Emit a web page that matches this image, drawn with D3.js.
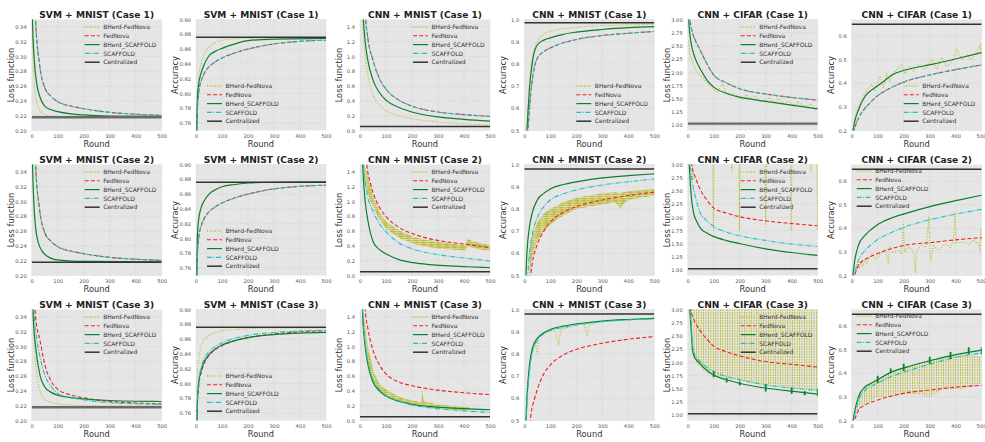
<!DOCTYPE html>
<meta charset="utf-8">
<style>
body { margin: 0; background: #fff; }
svg text { font-family: "DejaVu Sans", sans-serif; }
</style>
<svg width="985" height="442"></svg>
<script src="https://d3js.org/d3.v7.min.js"></script>
<script>

// ---- data ----
var roundTicks = [0, 100, 200, 300, 400, 500];
var svmLossTicks = [0.20, 0.22, 0.24, 0.26, 0.28, 0.30, 0.32, 0.34];
var svmAccTicks = [0.76, 0.78, 0.80, 0.82, 0.84, 0.86, 0.88, 0.90];
var cnnLossTicks = [0.0, 0.2, 0.4, 0.6, 0.8, 1.0, 1.2, 1.4];
var cnnAccTicks = [0.5, 0.6, 0.7, 0.8, 0.9, 1.0];
var cifLossTicks = [1.00, 1.25, 1.50, 1.75, 2.00, 2.25, 2.50, 2.75, 3.00];
var cifAccTicks = [0.2, 0.3, 0.4, 0.5, 0.6];

var seriesNames = ["BHerd-FedNova", "FedNova", "BHerd_SCAFFOLD", "SCAFFOLD", "Centralized"];

var titles = [
  "SVM + MNIST (Case 1)", "SVM + MNIST (Case 1)", "CNN + MNIST (Case 1)", "CNN + MNIST (Case 1)", "CNN + CIFAR (Case 1)", "CNN + CIFAR (Case 1)",
  "SVM + MNIST (Case 2)", "SVM + MNIST (Case 2)", "CNN + MNIST (Case 2)", "CNN + MNIST (Case 2)", "CNN + CIFAR (Case 2)", "CNN + CIFAR (Case 2)",
  "SVM + MNIST (Case 3)", "SVM + MNIST (Case 3)", "CNN + MNIST (Case 3)", "CNN + MNIST (Case 3)", "CNN + CIFAR (Case 3)", "CNN + CIFAR (Case 3)"
];

var centralized = [0.218, 0.876, 0.054, 0.985, 1.03, 0.65,
                   0.218, 0.876, 0.05, 0.98, 1.03, 0.65,
                   0.218, 0.876, 0.05, 0.98, 1.03, 0.65];

// row 1
var bhFedNova11 = [[0.5,0.4],[2,0.35],[6,0.29],[10,0.265],[20,0.237],[30,0.228],[50,0.2215],[75,0.2195],[100,0.219],[500,0.2185]];
var fedNova11 = [[1,0.7],[15,0.35],[30,0.29],[50,0.258],[75,0.246],[100,0.239],[150,0.233],[200,0.2295],[300,0.2245],[400,0.222],[500,0.2205]];
var bhScaffold11 = [[1,0.5],[3,0.35],[10,0.295],[20,0.262],[30,0.247],[50,0.233],[75,0.228],[100,0.2255],[150,0.2225],[200,0.221],[300,0.2195],[500,0.219]];
var scaffold11 = [[1,0.7],[15,0.35],[30,0.29],[50,0.258],[75,0.246],[100,0.239],[150,0.233],[200,0.2295],[300,0.2245],[400,0.222],[500,0.2205]];

var bhFedNova12 = [[1,0.7],[5,0.8],[10,0.822],[20,0.84],[35,0.855],[50,0.862],[75,0.869],[100,0.872],[150,0.874],[200,0.875],[500,0.8755]];
var fedNova12 = [[1,0.7],[5,0.775],[10,0.8],[20,0.817],[30,0.826],[50,0.836],[75,0.843],[100,0.848],[150,0.855],[200,0.86],[300,0.867],[400,0.8705],[500,0.872]];
var bhScaffold12 = [[1,0.7],[5,0.79],[10,0.812],[20,0.828],[30,0.838],[50,0.851],[75,0.857],[100,0.861],[150,0.867],[200,0.8715],[300,0.8735],[500,0.8745]];
var scaffold12 = [[1,0.7],[5,0.775],[10,0.8],[20,0.817],[30,0.826],[50,0.836],[75,0.843],[100,0.848],[150,0.855],[200,0.86],[300,0.867],[400,0.8705],[500,0.872]];

var bhFedNova13 = [[5,2],[10,1.5],[20,1.0],[30,0.75],[50,0.48],[75,0.34],[100,0.27],[150,0.2],[200,0.16],[300,0.115],[400,0.09],[500,0.072]];
var fedNova13 = [[10,2.5],[22,1.5],[30,1.25],[50,0.95],[75,0.7],[100,0.56],[150,0.41],[200,0.33],[300,0.25],[400,0.215],[500,0.19]];
var bhScaffold13 = [[5,2.2],[13,1.5],[20,1.2],[30,0.95],[50,0.68],[75,0.51],[100,0.41],[150,0.31],[200,0.25],[300,0.183],[400,0.15],[500,0.126]];
var scaffold13 = [[10,2.5],[22,1.5],[30,1.25],[50,0.95],[75,0.7],[100,0.56],[150,0.41],[200,0.33],[300,0.25],[400,0.215],[500,0.19]];

var bhFedNova14 = [[5,0.4],[15,0.6],[20,0.7],[30,0.82],[40,0.875],[50,0.9],[75,0.935],[100,0.947],[150,0.958],[200,0.965],[300,0.972],[400,0.976],[500,0.978]];
var fedNova14 = [[8,0.4],[15,0.52],[20,0.6],[30,0.72],[41,0.797],[50,0.825],[75,0.855],[100,0.872],[150,0.895],[200,0.91],[300,0.928],[400,0.938],[500,0.946]];
var bhScaffold14 = [[5,0.4],[15,0.6],[20,0.69],[30,0.8],[41,0.864],[50,0.885],[75,0.907],[100,0.917],[150,0.933],[200,0.943],[300,0.955],[400,0.963],[500,0.968]];
var scaffold14 = [[8,0.4],[15,0.52],[20,0.6],[30,0.72],[41,0.797],[50,0.825],[75,0.855],[100,0.872],[150,0.895],[200,0.91],[300,0.928],[400,0.938],[500,0.946]];

var bhFedNova15 = [[3,2.6],[8,2.35],[15,2.25],[25,2.1],[40,1.98],[60,1.88],[80,1.78],[100,1.68],[115,1.63],[125,1.72],[135,1.78],[145,1.62],[160,1.6],[180,1.58],[200,1.52],[210,1.48],[225,1.58],[240,1.5],[260,1.55],[280,1.45],[300,1.47],[315,1.52],[335,1.42],[350,1.5],[370,1.42],[390,1.45],[410,1.35],[425,1.45],[440,1.38],[460,1.36],[475,1.4],[490,1.3],[500,1.35]];
var fedNova15 = [[3,3.2],[8,3.0],[20,2.72],[30,2.6],[50,2.4],[75,2.15],[100,1.95],[150,1.8],[200,1.69],[300,1.59],[400,1.525],[500,1.475]];
var bhScaffold15 = [[2,3.2],[5,2.9],[10,2.65],[20,2.4],[30,2.25],[50,2.05],[75,1.85],[100,1.72],[150,1.6],[200,1.53],[300,1.45],[400,1.38],[500,1.31]];
var scaffold15 = [[3,3.2],[8,3.0],[20,2.72],[30,2.6],[50,2.4],[75,2.15],[100,1.95],[150,1.8],[200,1.69],[300,1.59],[400,1.525],[500,1.475]];

var bhFedNova16 = [[5,0.2],[15,0.26],[26,0.3],[38,0.33],[58,0.37],[77,0.395],[90,0.37],[109,0.43],[122,0.38],[135,0.44],[147,0.41],[167,0.45],[192,0.48],[205,0.44],[224,0.47],[237,0.45],[256,0.475],[282,0.46],[308,0.5],[327,0.46],[346,0.51],[365,0.47],[385,0.49],[404,0.545],[423,0.5],[442,0.52],[461,0.5],[481,0.53],[494,0.56],[500,0.51]];
var fedNova16 = [[5,0.19],[26,0.252],[51,0.294],[75,0.322],[96,0.344],[150,0.38],[205,0.407],[308,0.437],[410,0.46],[500,0.478]];
var bhScaffold16 = [[2,0.18],[13,0.245],[26,0.287],[51,0.344],[75,0.37],[96,0.386],[125,0.41],[154,0.435],[205,0.456],[308,0.48],[410,0.506],[500,0.53]];
var scaffold16 = [[5,0.19],[26,0.252],[51,0.294],[75,0.322],[96,0.344],[150,0.38],[205,0.407],[308,0.437],[410,0.46],[500,0.478]];

// row 2
var bhFedNova21 = [[1,0.7],[15,0.35],[30,0.29],[50,0.258],[75,0.246],[100,0.239],[150,0.233],[200,0.2295],[300,0.2245],[400,0.222],[500,0.2205]];
var fedNova21 = [[1,0.7],[15,0.35],[30,0.29],[50,0.258],[75,0.246],[100,0.239],[150,0.233],[200,0.2295],[300,0.2245],[400,0.222],[500,0.2205]];
var bhScaffold21 = [[1,0.5],[3,0.36],[8,0.3],[15,0.265],[25,0.245],[40,0.233],[60,0.226],[80,0.2225],[100,0.221],[150,0.2195],[200,0.219],[500,0.2185]];
var scaffold21 = [[1,0.7],[15,0.35],[30,0.29],[50,0.258],[75,0.246],[100,0.239],[150,0.233],[200,0.2295],[300,0.2245],[400,0.222],[500,0.2205]];

var bhFedNova22 = [[1,0.7],[5,0.775],[10,0.8],[20,0.817],[30,0.826],[50,0.836],[75,0.843],[100,0.848],[150,0.855],[200,0.86],[300,0.867],[400,0.8705],[500,0.872]];
var fedNova22 = [[1,0.7],[5,0.775],[10,0.8],[20,0.817],[30,0.826],[50,0.836],[75,0.843],[100,0.848],[150,0.855],[200,0.86],[300,0.867],[400,0.8705],[500,0.872]];
var bhScaffold22 = [[1,0.7],[5,0.8],[10,0.825],[20,0.842],[30,0.85],[50,0.86],[75,0.866],[100,0.87],[150,0.873],[200,0.875],[300,0.876],[500,0.8765]];
var scaffold22 = [[1,0.7],[5,0.775],[10,0.8],[20,0.817],[30,0.826],[50,0.836],[75,0.843],[100,0.848],[150,0.855],[200,0.86],[300,0.867],[400,0.8705],[500,0.872]];

// bands: [round, low, high]
var bhFedNova23 = [[15,1.3,1.5],[26,1.15,1.4],[40,1.0,1.2],[52,0.92,1.05],[75,0.75,0.85],[103,0.62,0.72],[155,0.5,0.6],[206,0.43,0.52],[260,0.39,0.48],[309,0.36,0.45],[360,0.35,0.43],[405,0.33,0.41],[410,0.36,0.48],[415,0.4,0.5],[430,0.38,0.47],[460,0.35,0.44],[500,0.33,0.41]];
var fedNova23 = [[15,2.0],[26,1.5],[40,1.25],[52,1.1],[75,0.92],[103,0.786],[150,0.65],[206,0.56],[309,0.468],[412,0.42],[500,0.377]];
var bhScaffold23 = [[5,2],[10,1.5],[20,1.0],[30,0.75],[52,0.445],[75,0.35],[103,0.286],[150,0.215],[206,0.173],[309,0.136],[412,0.118],[500,0.105]];
var scaffold23 = [[8,2],[13,1.5],[25,1.15],[52,0.855],[75,0.7],[103,0.58],[150,0.44],[206,0.355],[309,0.277],[412,0.232],[500,0.195]];

var bhFedNova24 = [[20,0.5,0.6],[30,0.58,0.68],[50,0.66,0.74],[75,0.7,0.78],[100,0.73,0.8],[150,0.77,0.83],[200,0.8,0.85],[250,0.81,0.86],[300,0.82,0.87],[350,0.83,0.875],[370,0.8,0.87],[380,0.82,0.875],[400,0.84,0.88],[450,0.85,0.885],[500,0.86,0.89]];
var fedNova24 = [[15,0.4],[30,0.55],[50,0.64],[75,0.7],[100,0.74],[150,0.785],[200,0.81],[300,0.84],[400,0.86],[500,0.875]];
var bhScaffold24 = [[3,0.4],[10,0.6],[20,0.72],[30,0.78],[50,0.84],[75,0.87],[100,0.89],[150,0.91],[200,0.922],[300,0.94],[400,0.95],[500,0.958]];
var scaffold24 = [[8,0.4],[20,0.6],[30,0.68],[50,0.76],[75,0.81],[100,0.84],[150,0.868],[200,0.885],[300,0.908],[400,0.922],[500,0.935]];

var bhFedNova25 = [[0,3.0],[15,3.3],[20,2.7],[22,3.3],[35,3.05],[40,3.3],[95,3.3],[99,1.75],[101,3.3],[165,3.3],[170,2.85],[175,3.3],[197,3.3],[199,1.75],[201,3.3],[297,3.3],[300,1.85],[303,3.3],[395,3.3],[398,1.75],[401,3.3],[470,3.3],[475,2.85],[480,3.3],[496,3.3],[499,1.75],[500,3.3]];
var fedNova25 = [[5,3.4],[15,3.0],[30,2.75],[48,2.53],[75,2.32],[99,2.18],[150,2.08],[202,2.01],[305,1.93],[407,1.88],[500,1.84]];
var bhScaffold25 = [[2,3.3],[6,3.0],[12,2.5],[22,2.1],[35,1.92],[48,1.8],[75,1.7],[99,1.64],[150,1.56],[202,1.5],[305,1.4],[407,1.33],[500,1.28]];
var scaffold25 = [[3,3.3],[9,3.0],[20,2.6],[30,2.38],[48,2.09],[75,1.93],[99,1.83],[150,1.72],[202,1.65],[305,1.56],[407,1.49],[500,1.45]];

var bhFedNova26 = [[10,0.2],[20,0.23],[26,0.25],[30,0.23],[36,0.26],[42,0.24],[50,0.265],[58,0.25],[65,0.27],[77,0.29],[90,0.27],[103,0.28],[115,0.3],[128,0.31],[136,0.28],[141,0.25],[147,0.32],[158,0.3],[167,0.3],[180,0.31],[192,0.29],[199,0.42],[203,0.3],[218,0.32],[231,0.31],[240,0.29],[244,0.21],[250,0.3],[260,0.32],[269,0.33],[280,0.32],[288,0.33],[297,0.45],[301,0.31],[305,0.26],[314,0.33],[327,0.31],[340,0.31],[352,0.33],[365,0.33],[378,0.32],[391,0.34],[397,0.47],[402,0.34],[420,0.34],[436,0.34],[452,0.33],[468,0.35],[480,0.34],[487,0.34],[494,0.3],[497,0.4],[500,0.35]];
var fedNova26 = [[5,0.18],[26,0.243],[51,0.268],[75,0.282],[96,0.292],[150,0.313],[205,0.328],[308,0.34],[410,0.352],[500,0.36]];
var bhScaffold26 = [[3,0.18],[10,0.25],[26,0.328],[51,0.37],[75,0.395],[96,0.413],[150,0.442],[205,0.462],[308,0.494],[410,0.519],[500,0.54]];
var scaffold26 = [[5,0.18],[26,0.264],[51,0.306],[75,0.33],[96,0.349],[150,0.38],[205,0.406],[308,0.438],[410,0.462],[500,0.48]];

// row 3
var bhFedNova31 = [[1,0.4],[6,0.34],[12,0.29],[20,0.262],[32,0.24],[51,0.229],[75,0.2245],[103,0.2226],[150,0.2208],[200,0.22],[300,0.2195],[500,0.2195]];
var fedNova31 = [[3,0.5],[15,0.34],[32,0.308],[51,0.2745],[75,0.253],[103,0.2415],[150,0.2345],[199,0.2307],[301,0.2257],[404,0.2235],[500,0.2225]];
var bhScaffold31 = [[1,0.45],[6,0.34],[15,0.3],[32,0.261],[51,0.245],[75,0.238],[103,0.2339],[150,0.231],[199,0.2293],[301,0.227],[400,0.226],[500,0.2257]];
var scaffold31 = [[2,0.45],[10,0.34],[20,0.31],[32,0.286],[51,0.261],[75,0.246],[103,0.236],[150,0.231],[199,0.228],[301,0.2239],[404,0.2226],[500,0.2217]];

var bhFedNova32 = [[1,0.7],[5,0.805],[10,0.83],[20,0.85],[30,0.858],[50,0.865],[75,0.869],[100,0.871],[150,0.873],[200,0.874],[300,0.875],[500,0.875]];
var fedNova32 = [[1,0.66],[5,0.77],[10,0.795],[20,0.815],[30,0.826],[50,0.838],[75,0.846],[100,0.851],[150,0.858],[200,0.862],[300,0.867],[400,0.87],[500,0.871]];
var bhScaffold32 = [[1,0.68],[5,0.77],[10,0.8],[20,0.818],[30,0.828],[50,0.839],[75,0.847],[100,0.852],[150,0.858],[200,0.862],[300,0.866],[400,0.868],[500,0.869]];
var scaffold32 = [[1,0.68],[5,0.775],[10,0.802],[20,0.822],[30,0.832],[50,0.843],[75,0.85],[100,0.855],[150,0.861],[200,0.865],[300,0.869],[400,0.871],[500,0.872]];

var bhFedNova33 = [[10,1.3,1.5],[20,1.05,1.3],[30,0.8,1.0],[40,0.62,0.85],[50,0.5,0.7],[60,0.45,0.6],[75,0.38,0.5],[100,0.32,0.42],[150,0.25,0.32],[200,0.2,0.27],[235,0.19,0.25],[240,0.19,0.42],[245,0.19,0.26],[300,0.16,0.22],[350,0.15,0.2],[420,0.14,0.18]];
var fedNova33 = [[10,2.2],[20,1.5],[30,1.25],[50,0.95],[75,0.75],[100,0.63],[150,0.52],[200,0.47],[300,0.41],[400,0.375],[500,0.35]];
var bhScaffold33 = [[5,2],[10,1.45],[20,1.0],[30,0.76],[50,0.52],[75,0.4],[100,0.33],[150,0.26],[200,0.22],[300,0.18],[400,0.16],[500,0.145]];
var scaffold33 = [[5,2],[10,1.5],[20,1.05],[30,0.8],[50,0.55],[75,0.42],[100,0.34],[150,0.26],[200,0.21],[300,0.16],[400,0.13],[500,0.11]];

var bhFedNova34 = [[5,0.5],[10,0.62],[20,0.75],[30,0.82],[40,0.86],[45,0.83],[50,0.8],[55,0.87],[70,0.89],[90,0.9],[110,0.91],[120,0.9],[127,0.86],[133,0.84],[140,0.91],[170,0.92],[200,0.93],[230,0.935],[237,0.9],[242,0.88],[248,0.93],[270,0.94],[300,0.945],[350,0.95],[400,0.955],[450,0.958],[500,0.962]];
var fedNova34 = [[15,0.4],[25,0.52],[40,0.6],[50,0.64],[75,0.71],[100,0.75],[150,0.795],[200,0.82],[300,0.848],[400,0.866],[500,0.878]];
var bhScaffold34 = [[3,0.4],[10,0.6],[20,0.75],[30,0.82],[50,0.87],[75,0.895],[100,0.91],[150,0.925],[200,0.935],[300,0.948],[400,0.955],[500,0.96]];
var scaffold34 = [[4,0.4],[10,0.57],[20,0.72],[30,0.8],[50,0.86],[75,0.89],[100,0.905],[150,0.92],[200,0.93],[300,0.945],[400,0.953],[500,0.958]];

var bhFedNova35 = [[10,2.3,3.3],[20,2.1,3.3],[30,2.0,3.3],[50,1.9,3.3],[75,1.8,3.3],[100,1.75,3.3],[150,1.7,3.3],[200,1.65,3.3],[250,1.6,3.3],[300,1.55,3.3],[350,1.55,3.3],[400,1.5,3.3],[450,1.5,3.3],[500,1.45,3.3]];
var fedNova35 = [[3,3.4],[12,3.0],[25,2.8],[48,2.6],[75,2.43],[99,2.31],[150,2.2],[202,2.12],[305,2.01],[407,1.96],[500,1.91]];
var bhScaffold35 = [[2,3.4],[8,3.0],[22,2.15],[48,1.97],[75,1.84],[99,1.76],[150,1.67],[202,1.6],[305,1.51],[407,1.45],[500,1.4]];
var scaffold35 = [[2,3.4],[9,3.0],[22,2.21],[48,2.02],[75,1.9],[99,1.83],[150,1.73],[202,1.67],[305,1.57],[407,1.51],[500,1.47]];
var spikes35 = [[100,1.72,1.83],[150,1.62,1.7],[200,1.56,1.64],[300,1.45,1.58],[400,1.4,1.52],[450,1.38,1.46],[500,1.36,1.5]];

var bhFedNova36 = [[15,0.22,0.26],[30,0.25,0.32],[50,0.27,0.34],[75,0.28,0.36],[100,0.3,0.38],[150,0.3,0.4],[200,0.31,0.43],[250,0.31,0.44],[300,0.3,0.46],[350,0.33,0.47],[400,0.33,0.48],[450,0.34,0.48],[500,0.35,0.47]];
var fedNova36 = [[5,0.18],[26,0.243],[51,0.265],[96,0.285],[150,0.303],[205,0.316],[308,0.33],[410,0.342],[500,0.349]];
var bhScaffold36 = [[3,0.18],[10,0.23],[26,0.3],[51,0.342],[75,0.358],[96,0.37],[154,0.406],[205,0.424],[308,0.455],[410,0.481],[500,0.498]];
var scaffold36 = [[3,0.18],[26,0.285],[51,0.328],[96,0.356],[150,0.385],[205,0.406],[308,0.441],[410,0.47],[500,0.486]];
var spikes36 = [[100,0.36,0.39],[150,0.4,0.42],[200,0.41,0.44],[300,0.44,0.47],[380,0.46,0.49],[450,0.48,0.51],[500,0.48,0.51]];

// ---- per panel setup ----
var yellowMode = ["smooth","smooth","smooth","smooth","noisy","noisy",
                  "smooth","smooth","band","band","noisy","noisy",
                  "smooth","smooth","band","noisy","band","band"];
var legendPos = ["ur","lc","ur","lr","ur","lr",
                 "ur","lc","ur","none","ur","ul",
                 "ur","lc","ur","none","ur","ul"];
var wideCentral = [0, 4, 12];

var panels = [
  [bhFedNova11, fedNova11, bhScaffold11, scaffold11, null],
  [bhFedNova12, fedNova12, bhScaffold12, scaffold12, null],
  [bhFedNova13, fedNova13, bhScaffold13, scaffold13, null],
  [bhFedNova14, fedNova14, bhScaffold14, scaffold14, null],
  [bhFedNova15, fedNova15, bhScaffold15, scaffold15, null],
  [bhFedNova16, fedNova16, bhScaffold16, scaffold16, null],
  [bhFedNova21, fedNova21, bhScaffold21, scaffold21, null],
  [bhFedNova22, fedNova22, bhScaffold22, scaffold22, null],
  [bhFedNova23, fedNova23, bhScaffold23, scaffold23, null],
  [bhFedNova24, fedNova24, bhScaffold24, scaffold24, null],
  [bhFedNova25, fedNova25, bhScaffold25, scaffold25, null],
  [bhFedNova26, fedNova26, bhScaffold26, scaffold26, null],
  [bhFedNova31, fedNova31, bhScaffold31, scaffold31, null],
  [bhFedNova32, fedNova32, bhScaffold32, scaffold32, null],
  [bhFedNova33, fedNova33, bhScaffold33, scaffold33, null],
  [bhFedNova34, fedNova34, bhScaffold34, scaffold34, null],
  [bhFedNova35, fedNova35, bhScaffold35, scaffold35, spikes35],
  [bhFedNova36, fedNova36, bhScaffold36, scaffold36, spikes36]
];

var colKinds = [
  {dom: [0.20, 0.35], ticks: svmLossTicks, fmt: ".2f", label: "Loss function"},
  {dom: [0.75, 0.90], ticks: svmAccTicks, fmt: ".2f", label: "Accuracy"},
  {dom: [0, 1.5], ticks: cnnLossTicks, fmt: ".1f", label: "Loss function"},
  {dom: [0.5, 1.0], ticks: cnnAccTicks, fmt: ".1f", label: "Accuracy"},
  {dom: [0.9, 3.0], ticks: cifLossTicks, fmt: ".2f", label: "Loss function"},
  {dom: [0.2, 0.67], ticks: cifAccTicks, fmt: ".1f", label: "Accuracy"}
];

var colLeft = [31.7, 196, 360, 524.3, 687.7, 851.7],
    rowTop = [19.5, 164.5, 309.5],
    pw = 130, ph = 111;

var colors = ["#bcbd22", "#f02020", "#0b7f2f", "#1cc3c3", "#333333"];
var dashes = ["1,1.6", "4,2.2", null, "5,1.5,1,1.5", null];
var widths = [1.1, 1.1, 1.2, 1.1, 1.5];

var svg = d3.select("svg");
var defs = svg.append("defs");

function bandPattern(id, w, h, bar) {
  var p = defs.append("pattern").attr("id", id)
      .attr("width", w).attr("height", h)
      .attr("patternUnits", "userSpaceOnUse");
  p.append("rect").attr("width", 0.9).attr("height", bar).attr("fill", "#b8b826");
}
bandPattern("yDense", 1.15, 2.2, 1.7);
bandPattern("ySparse", 2.4, 2.6, 1.8);

panels.forEach(function(s, i) {
  var col = i % 6, row = Math.floor(i / 6);
  var k = colKinds[col];
  var left = colLeft[col], top = rowTop[row];

  var x = d3.scaleLinear().domain([0, 500]).range([left, left + pw]);
  var y = d3.scaleLinear().domain(k.dom).range([top + ph, top]);

  var g = svg.append("g");
  defs.append("clipPath").attr("id", "clip" + i)
    .append("rect").attr("x", left).attr("y", top).attr("width", pw).attr("height", ph);

  g.append("rect").attr("x", left).attr("y", top).attr("width", pw).attr("height", ph)
    .attr("fill", "#e5e5e5");

  // grid
  g.selectAll(".gx").data(roundTicks).enter().append("line")
    .attr("x1", function(d) { return x(d); }).attr("x2", function(d) { return x(d); })
    .attr("y1", top).attr("y2", top + ph)
    .attr("stroke", "#c9c9c9").attr("stroke-width", 0.6).attr("stroke-dasharray", "1,1.2");
  g.selectAll(".gy").data(k.ticks).enter().append("line")
    .attr("y1", function(d) { return y(d); }).attr("y2", function(d) { return y(d); })
    .attr("x1", left).attr("x2", left + pw)
    .attr("stroke", "#c9c9c9").attr("stroke-width", 0.6).attr("stroke-dasharray", "1,1.2");

  // axes
  var ax = g.append("g").attr("transform", "translate(0," + (top + ph) + ")")
    .call(d3.axisBottom(x).tickValues(roundTicks).tickSize(0).tickPadding(3.5));
  var ay = g.append("g").attr("transform", "translate(" + left + ",0)")
    .call(d3.axisLeft(y).tickValues(k.ticks).tickFormat(d3.format(k.fmt)).tickSize(0).tickPadding(5));
  [ax, ay].forEach(function(a) {
    a.select(".domain").remove();
    a.selectAll("text").attr("font-size", 5.2).attr("fill", "#555")
      .attr("font-family", "DejaVu Sans");
  });
  if (col === 5) {
    // keep the last round label inside the page
    ax.selectAll("text").filter(function(d) { return d === 500; })
      .attr("text-anchor", "end").attr("dx", "4.3");
  }

  // curves
  var plot = g.append("g").attr("clip-path", "url(#clip" + i + ")");
  var smooth = d3.line().x(function(d) { return x(d[0]); }).y(function(d) { return y(d[1]); })
      .curve(d3.curveMonotoneX);
  var straight = d3.line().x(function(d) { return x(d[0]); }).y(function(d) { return y(d[1]); });

  var mode = yellowMode[i];
  if (mode === "band") {
    var area = d3.area().x(function(d) { return x(d[0]); })
        .y0(function(d) { return y(d[1]); }).y1(function(d) { return y(d[2]); });
    plot.append("path").datum(s[0]).attr("d", area)
      .attr("fill", col >= 4 ? "url(#ySparse)" : "url(#yDense)");
  } else {
    plot.append("path").datum(s[0]).attr("d", mode === "noisy" ? straight : smooth)
      .attr("fill", "none").attr("stroke", colors[0]).attr("stroke-width", widths[0])
      .attr("stroke-dasharray", dashes[0]);
  }
  [1, 2, 3].forEach(function(j) {
    plot.append("path").datum(s[j]).attr("d", smooth)
      .attr("fill", "none").attr("stroke", colors[j]).attr("stroke-width", widths[j])
      .attr("stroke-dasharray", dashes[j]);
  });
  if (s[4]) {
    plot.selectAll(".spike").data(s[4]).enter().append("line")
      .attr("x1", function(d) { return x(d[0]); }).attr("x2", function(d) { return x(d[0]); })
      .attr("y1", function(d) { return y(d[1]); }).attr("y2", function(d) { return y(d[2]); })
      .attr("stroke", colors[2]).attr("stroke-width", 1.8);
  }
  var wide = wideCentral.indexOf(i) >= 0;
  plot.append("line").attr("x1", left).attr("x2", left + pw)
    .attr("y1", y(centralized[i])).attr("y2", y(centralized[i]))
    .attr("stroke", wide ? "#6a6a6a" : colors[4]).attr("stroke-width", wide ? 2.4 : widths[4]);

  // labels
  g.append("text").attr("x", left + pw / 2).attr("y", top - 2)
    .attr("text-anchor", "middle").attr("font-size", 9.1).attr("font-weight", "bold")
    .attr("fill", "#222").text(titles[i]);
  g.append("text").attr("x", left + pw / 2).attr("y", top + ph + 16.5)
    .attr("text-anchor", "middle").attr("font-size", 8.3).attr("fill", "#333").text("Round");
  g.append("text").attr("transform", "translate(" + (left - 21) + "," + (top + ph / 2) + ") rotate(-90)")
    .attr("dy", "0.35em").attr("text-anchor", "middle").attr("font-size", 8.3)
    .attr("fill", "#333").text(k.label);

  // legend
  var lp = legendPos[i];
  if (lp !== "none") {
    var lx = {ur: 53, lc: 11, lr: 52, ul: 5}[lp] + left;
    var ly = {ur: 7.5, lc: 66.5, lr: 66.5, ul: 6.5}[lp] + top;
    var leg = g.append("g");
    seriesNames.forEach(function(name, j) {
      var yy = ly + j * 8.8;
      leg.append("line").attr("x1", lx).attr("x2", lx + 15).attr("y1", yy).attr("y2", yy)
        .attr("stroke", colors[j]).attr("stroke-width", j === 0 ? 1.3 : widths[j])
        .attr("stroke-dasharray", dashes[j]);
      leg.append("text").attr("x", lx + 18.5).attr("y", yy).attr("dy", "0.35em")
        .attr("font-size", 6).attr("fill", "#333").text(name);
    });
  }
});

</script>
